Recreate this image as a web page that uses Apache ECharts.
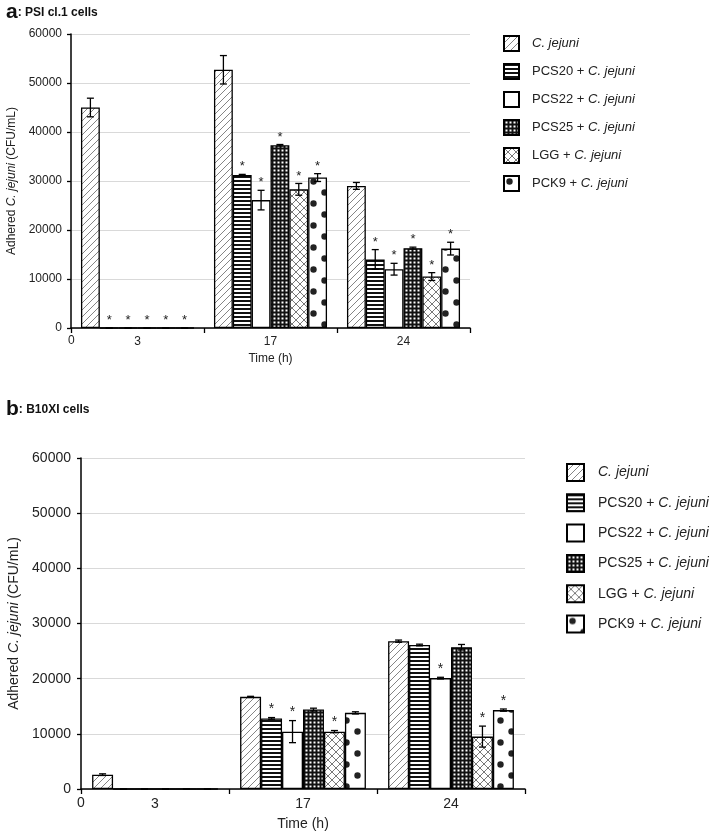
<!DOCTYPE html>
<html><head><meta charset="utf-8">
<script src="https://cdn.jsdelivr.net/npm/echarts@6/dist/echarts.min.js"></script>
<style>html,body{margin:0;padding:0;background:#fff}#c{width:709px;height:833px}</style>
</head><body><div id="c"></div>
<script>
// ---------- data ----------
const categories = ['3', '17', '24'];
const originLabel = '0';
const seriesNames = ['C. jejuni', 'PCS20 + C. jejuni', 'PCS22 + C. jejuni', 'PCS25 + C. jejuni', 'LGG + C. jejuni', 'PCK9 + C. jejuni'];

// Panel a: PSI cl.1 cells
const psiCj    = [45000, 52700, 29000];
const psiPCS20 = [0, 31200, 14000];
const psiPCS22 = [0, 26100, 12000];
const psiPCS25 = [0, 37300, 16300];
const psiLGG   = [0, 28300, 10500];
const psiPCK9  = [0, 30700, 16200];
const psiErrCj    = [1900, 2900, 700];
const psiErrPCS20 = [0, 150, 2000];
const psiErrPCS22 = [0, 2000, 1200];
const psiErrPCS25 = [0, 150, 200];
const psiErrLGG   = [0, 1200, 800];
const psiErrPCK9  = [0, 800, 1300];
const psiStarCj    = [0, 0, 0];
const psiStarPCS20 = [1, 1, 1];
const psiStarPCS22 = [1, 1, 1];
const psiStarPCS25 = [1, 1, 1];
const psiStarLGG   = [1, 1, 1];
const psiStarPCK9  = [1, 1, 1];

// Panel b: B10XI cells
const bxCj    = [2600, 16700, 26800];
const bxPCS20 = [0, 12800, 26100];
const bxPCS22 = [0, 10400, 20100];
const bxPCS25 = [0, 14400, 25700];
const bxLGG   = [0, 10400, 9500];
const bxPCK9  = [0, 13800, 14300];
const bxErrCj    = [150, 100, 200];
const bxErrPCS20 = [0, 150, 150];
const bxErrPCS22 = [0, 2000, 150];
const bxErrPCS25 = [0, 250, 500];
const bxErrLGG   = [0, 200, 1900];
const bxErrPCK9  = [0, 200, 200];
const bxStarCj    = [0, 0, 0];
const bxStarPCS20 = [0, 1, 0];
const bxStarPCS22 = [0, 1, 1];
const bxStarPCS25 = [0, 0, 0];
const bxStarLGG   = [0, 1, 1];
const bxStarPCK9  = [0, 0, 1];

const yMin = 0, yMax = 60000, yInterval = 10000;

// ---------- patterns ----------
function tile(w, h, draw) {
  const c = document.createElement('canvas');
  c.width = w; c.height = h;
  const g = c.getContext('2d');
  g.fillStyle = '#fff'; g.fillRect(0, 0, w, h);
  draw(g, w, h);
  return {image: c, repeat: 'repeat'};
}
const patDiag = tile(7, 7, (g, w, h) => {
  g.strokeStyle = '#666'; g.lineWidth = 0.8;
  g.beginPath(); g.moveTo(-1, h + 1); g.lineTo(w + 1, -1);
  g.moveTo(-1 - w, h + 1); g.lineTo(1, -1);
  g.moveTo(w - 1, h + 1); g.lineTo(2 * w + 1, -1);
  g.stroke();
});
const patHoriz = tile(4, 4, (g) => { g.fillStyle = '#111'; g.fillRect(0, 0, 4, 2); });
const patWhite = tile(4, 4, () => {});
const patGrid = tile(4, 4, (g) => {
  g.fillStyle = '#111'; g.fillRect(0, 0, 4, 4);
  g.fillStyle = '#fff'; g.fillRect(1.5, 1.5, 2, 2);
});
const patCross = tile(8, 8, (g, w, h) => {
  g.strokeStyle = '#555'; g.lineWidth = 0.8;
  g.beginPath(); g.moveTo(0, 0); g.lineTo(w, h); g.moveTo(0, h); g.lineTo(w, 0); g.stroke();
});
const patDots = tile(22, 22, (g) => {
  g.fillStyle = '#222';
  g.beginPath(); g.arc(5.5, 5.5, 3.2, 0, Math.PI * 2); g.fill();
  g.beginPath(); g.arc(16.5, 16.5, 3.2, 0, Math.PI * 2); g.fill();
});
const patterns = [patDiag, patHoriz, patWhite, patGrid, patCross, patDots];

// ---------- layout ----------
const fontFam = '"Liberation Sans", Arial, sans-serif';
const gA = {left: 71, top: 34, width: 399, height: 294};
const gB = {left: 81, top: 458, width: 444, height: 331};
const catGap = 0.15;

const chart = echarts.init(document.getElementById('c'), null, {renderer: 'canvas'});

function barSeries(gi, arrays) {
  return arrays.map((arr, s) => ({
    type: 'bar', name: seriesNames[s], xAxisIndex: gi, yAxisIndex: gi,
    data: arr, barGap: '0%', barCategoryGap: (catGap * 100) + '%',
    itemStyle: {color: patterns[s], borderColor: '#000', borderWidth: 1.3},
    emphasis: {disabled: true}, animation: false, z: 2
  }));
}
function errSeries(gi, vals, errs, stars, fs) {
  const data = [];
  vals.forEach((arr, s) => arr.forEach((v, c) => data.push([c, s, v, errs[s][c], stars[s][c]])));
  return {
    type: 'custom', xAxisIndex: gi, yAxisIndex: gi, data, z: 5, animation: false, silent: true,
    encode: {x: 0, y: 2},
    renderItem: (params, api) => {
      const c = api.value(0), s = api.value(1), v = api.value(2), e = api.value(3), st = api.value(4);
      const center = api.coord([c, 0]);
      const band = api.size([1, 0])[0];
      const gw = band * (1 - catGap);
      const bw = gw / 6;
      const x = center[0] - gw / 2 + (s + 0.5) * bw;
      const yT = api.coord([c, v + e])[1];
      const yB = api.coord([c, Math.max(v - e, 0)])[1];
      const cap = 3.5;
      const ls = {stroke: '#000', lineWidth: 1.3};
      const ch = [
        {type: 'line', shape: {x1: x, y1: yT, x2: x, y2: yB}, style: ls},
        {type: 'line', shape: {x1: x - cap, y1: yT, x2: x + cap, y2: yT}, style: ls},
        {type: 'line', shape: {x1: x - cap, y1: yB, x2: x + cap, y2: yB}, style: ls}
      ];
      if (st) ch.push({type: 'text', style: {text: '*', x: x, y: yT - 1, align: 'center', verticalAlign: 'bottom',
        fontSize: fs, fontFamily: fontFam, fill: '#222'}});
      return {type: 'group', children: ch};
    }
  };
}

function legendFmt(name) {
  const i = name.indexOf(' + ');
  if (i < 0) return '{i|' + name + '}';
  return '{n|' + name.slice(0, i + 3) + '}{i|' + name.slice(i + 3) + '}';
}
function richStyles(fs) {
  return {
    n: {fontSize: fs, fontFamily: fontFam, color: '#222'},
    i: {fontSize: fs, fontFamily: fontFam, color: '#222', fontStyle: 'italic'}
  };
}
function xAx(gi, fs, gap) {
  return {
    type: 'category', gridIndex: gi, data: categories,
    name: 'Time (h)', nameLocation: 'middle', nameGap: gap,
    nameTextStyle: {fontSize: fs, fontFamily: fontFam, color: '#222'},
    axisLine: {lineStyle: {color: '#000', width: 1.5}},
    axisTick: {show: true, length: 5, lineStyle: {color: '#000', width: 1.3}},
    axisLabel: {fontSize: fs, fontFamily: fontFam, color: '#222', margin: 8}
  };
}
function yAx(gi, fs, gap, lm) {
  return {
    type: 'value', gridIndex: gi, min: yMin, max: yMax, interval: yInterval,
    name: '{n|Adhered }{i|C. jejuni}{n| (CFU/mL)}', nameLocation: 'middle', nameGap: gap,
    nameTextStyle: {rich: richStyles(fs)},
    axisLine: {show: true, lineStyle: {color: '#000', width: 1.5}},
    axisTick: {show: true, length: 4, lineStyle: {color: '#000', width: 1.3}},
    axisLabel: {fontSize: fs, fontFamily: fontFam, color: '#222', margin: lm, formatter: (v) => String(v)},
    splitLine: {lineStyle: {color: '#d9d9d9', width: 1}}
  };
}

const option = {
  backgroundColor: '#fff',
  animation: false,
  title: [
    {text: '{b|a}{t|: PSI cl.1 cells}', left: 1, top: -3,
     textStyle: {rich: {b: {fontSize: 21, fontWeight: 'bold', fontFamily: fontFam, color: '#111'}, t: {fontSize: 12, fontWeight: 'bold', fontFamily: fontFam, color: '#111'}}}},
    {text: '{b|b}{t|: B10XI cells}', left: 1, top: 394,
     textStyle: {rich: {b: {fontSize: 21, fontWeight: 'bold', fontFamily: fontFam, color: '#111'}, t: {fontSize: 12, fontWeight: 'bold', fontFamily: fontFam, color: '#111'}}}}
  ],
  grid: [
    {left: gA.left, top: gA.top, width: gA.width, height: gA.height, containLabel: false, outerBoundsMode: 'none'},
    {left: gB.left, top: gB.top, width: gB.width, height: gB.height, containLabel: false, outerBoundsMode: 'none'}
  ],
  legend: [
    {orient: 'vertical', left: 498, top: 30, itemWidth: 15, itemHeight: 15, itemGap: 11,
     icon: 'rect', data: seriesNames, formatter: legendFmt, selectedMode: false,
     textStyle: {padding: [0, 0, 0, 8], rich: richStyles(13)}},
    {orient: 'vertical', left: 561, top: 458, itemWidth: 17, itemHeight: 17, itemGap: 11.3,
     icon: 'rect', data: seriesNames, formatter: legendFmt, selectedMode: false,
     textStyle: {padding: [0, 0, 0, 9], rich: richStyles(14)}}
  ],
  xAxis: [xAx(0, 12, 25), xAx(1, 14, 28)],
  yAxis: [yAx(0, 12, 52, 9), yAx(1, 14, 60, 10)],
  graphic: [
    {type: 'text', left: gA.left - 3, top: gA.top + gA.height + 7,
     style: {text: originLabel, fontSize: 12, fontFamily: fontFam, fill: '#222'}},
    {type: 'text', left: gB.left - 4, top: gB.top + gB.height + 7,
     style: {text: originLabel, fontSize: 14, fontFamily: fontFam, fill: '#222'}}
  ],
  series: [
    ...barSeries(0, [psiCj, psiPCS20, psiPCS22, psiPCS25, psiLGG, psiPCK9]),
    ...barSeries(1, [bxCj, bxPCS20, bxPCS22, bxPCS25, bxLGG, bxPCK9]),
    errSeries(0, [psiCj, psiPCS20, psiPCS22, psiPCS25, psiLGG, psiPCK9],
      [psiErrCj, psiErrPCS20, psiErrPCS22, psiErrPCS25, psiErrLGG, psiErrPCK9],
      [psiStarCj, psiStarPCS20, psiStarPCS22, psiStarPCS25, psiStarLGG, psiStarPCK9], 13),
    errSeries(1, [bxCj, bxPCS20, bxPCS22, bxPCS25, bxLGG, bxPCK9],
      [bxErrCj, bxErrPCS20, bxErrPCS22, bxErrPCS25, bxErrLGG, bxErrPCK9],
      [bxStarCj, bxStarPCS20, bxStarPCS22, bxStarPCS25, bxStarLGG, bxStarPCK9], 14)
  ]
};
chart.setOption(option);
</script>
</body></html>
